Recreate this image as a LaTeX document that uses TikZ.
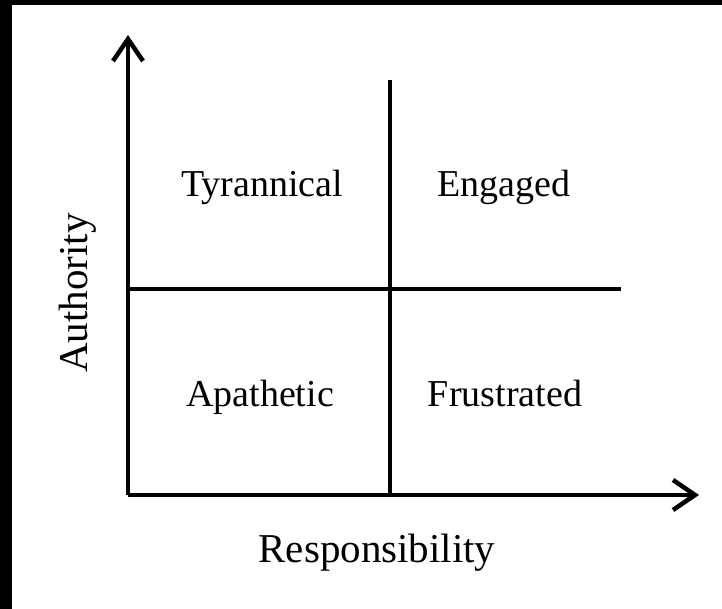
\documentclass[tikz,border=0pt]{standalone}
\usepackage{fontspec}
\setmainfont{Liberation Serif}
\usetikzlibrary{arrows.meta}

\tikzset{
  axis/.style={line width=4pt,-{Straight Barb[length=22pt,width=30pt,line width=4.5pt]}},
  divider/.style={line width=3.2pt},
  quadlabel/.style={anchor=base,font=\fontsize{38}{40}\selectfont},
  axislabel/.style={anchor=base,font=\fontsize{41}{44}\selectfont}
}

\begin{document}
\begin{tikzpicture}[x=1pt,y=1pt]
		\fill[black] (0,0) rectangle (722,609);
		\fill[white] (12,0) rectangle (722,604);
		\useasboundingbox (0,0) rectangle (722,609);
		\coordinate (o) at (128,114);
		\coordinate (ytip) at (128,574);
		\coordinate (xtip) at (699,114);
		\coordinate (vbot) at (390,114);
		\coordinate (vtop) at (390,529);
		\coordinate (hleft) at (128,320);
		\coordinate (hright) at (621,320);
		\draw[axis] (o) -- (ytip);
		\draw[axis] (o) -- (xtip);
		\draw[divider] (vbot) -- (vtop);
		\draw[divider] (hleft) -- (hright);
		\node[quadlabel] (tyrannical) at (262,412) {Tyrannical};
		\node[quadlabel] (engaged) at (504,412) {Engaged};
		\node[quadlabel] (apathetic) at (260,202) {Apathetic};
		\node[quadlabel] (frustrated) at (505,202) {Frustrated};
		\node[axislabel] (resp) at (377,46) {Responsibility};
		\node[axislabel,rotate=90] (auth) at (87,316) {Authority};
	\end{tikzpicture}
\end{document}
